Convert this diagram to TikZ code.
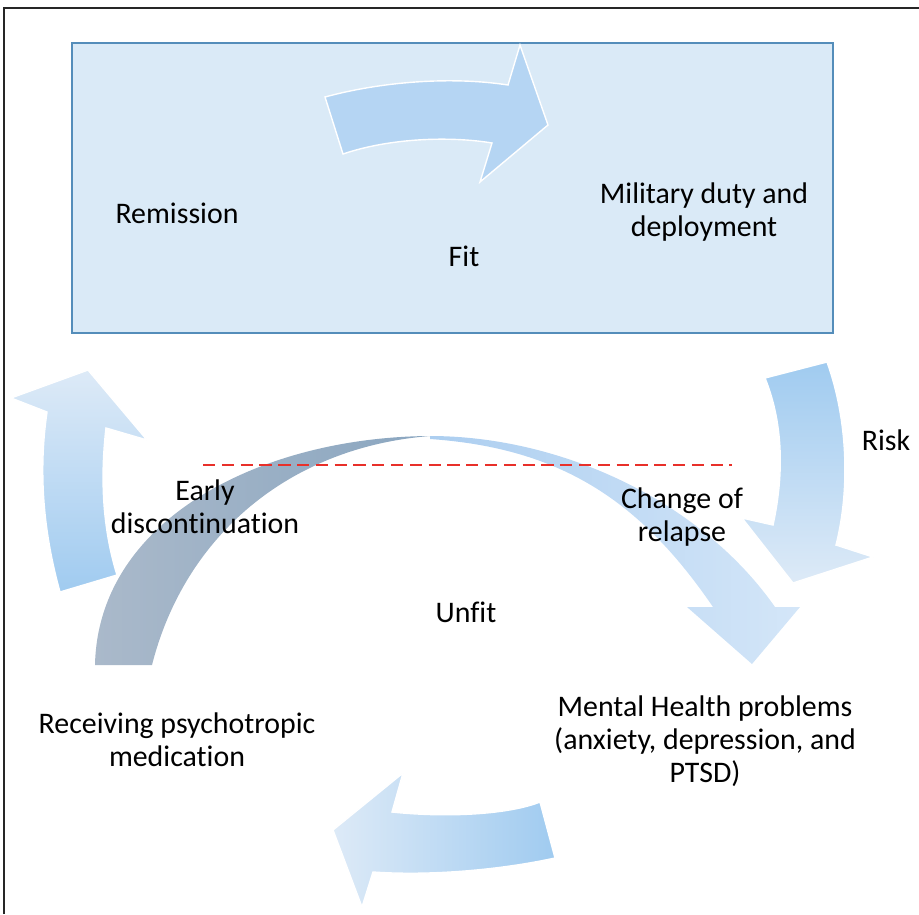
\documentclass[tikz,border=0pt]{standalone}
\usepackage{fontspec}
\setmainfont{Carlito}[Ligatures=CommonOff]
\definecolor{boxfill}{RGB}{218,234,247}
\definecolor{boxline}{RGB}{84,141,186}
\definecolor{arrowblue}{RGB}{181,213,243}
\definecolor{lightblue}{RGB}{221,234,247}
\definecolor{midblue}{RGB}{160,203,240}
\definecolor{grayA}{RGB}{170,185,202}
\definecolor{grayB}{RGB}{138,166,192}
\definecolor{arcblueA}{RGB}{172,206,240}
\definecolor{arcblueB}{RGB}{212,230,248}
\definecolor{dashred}{RGB}{232,48,42}

\begin{document}
\begin{tikzpicture}[x=0.02cm, y=-0.02cm,
    lbl/.style={align=center, font=\fontsize{17}{18.9}\selectfont},
    shape edge/.style={draw=white, line width=0.8pt}]
        \useasboundingbox (0,0) rectangle (919,914);

        % frame and box
        \draw[line width=1.2pt, black!85] (4,914) -- (4,8) -- (919,8);
        \draw[fill=boxfill, draw=boxline, line width=0.7pt] (72,43) rectangle (833,333);

        % arrow inside the box
        \path[fill=arrowblue, shape edge] (325,97) .. controls (380,82) and (450,76) .. (508,85)
            -- (520,45) -- (548,125) -- (480,182) -- (492,143)
            .. controls (450,136) and (390,138) .. (343,154) -- cycle;

        % arrow up on the left
        \path[top color=lightblue, bottom color=midblue, shape edge] (60,592)
            .. controls (40,520) and (40,460) .. (47,412) -- (11,398) -- (88,370)
            -- (147,440) -- (106,428) .. controls (100,480) and (103,530) .. (117,575) -- cycle;

        % risk arrow
        \path[top color=midblue, bottom color=lightblue, shape edge] (765,378) -- (827,362)
            .. controls (848,420) and (850,490) .. (836,545) -- (873,557) -- (793,583)
            -- (742,518) -- (773,525) .. controls (785,470) and (782,420) .. (765,378) -- cycle;

        % arrow at the bottom
        \path[left color=lightblue, right color=midblue, shape edge] (333,830) -- (403,773)
            -- (392,812) .. controls (450,818) and (510,814) .. (540,802) -- (555,858)
            .. controls (500,870) and (430,876) .. (373,872) -- (362,907) -- cycle;

        % big arc
        \path[left color=grayA, right color=grayB] (95,665)
            .. controls (98,520) and (260,437) .. (430,436)
            .. controls (290,447) and (185,535) .. (152,665) -- cycle;
        \path[left color=arcblueA, right color=arcblueB] (430,436)
            .. controls (560,436) and (700,500) .. (775,607) -- (800,607) -- (752,664)
            -- (687,607) -- (713,607) .. controls (640,500) and (560,448) .. (430,439) -- cycle;

        % dashed line
        \draw[dashred, line width=1.5pt, dash pattern=on 7pt off 3.7pt] (203,465) -- (732,465);

        % labels
        \node[lbl] (remission) at (177,213) {Remission};
        \node[lbl] (fit) at (464,256) {Fit};
        \node[lbl] (duty) at (704,212) {Military duty and\\deployment};
        \node[lbl] (risk) at (886,440) {Risk};
        \node[lbl] (early) at (205,507) {Early\\discontinuation};
        \node[lbl] (relapse) at (682,517) {Change of\\relapse};
        \node[lbl] (unfit) at (466,612) {Unfit};
        \node[lbl] (medication) at (177,740) {Receiving psychotropic\\medication};
        \node[lbl] (mental) at (705,741) {Mental Health problems\\(anxiety, depression, and\\PTSD)};
    \end{tikzpicture}
\end{document}
